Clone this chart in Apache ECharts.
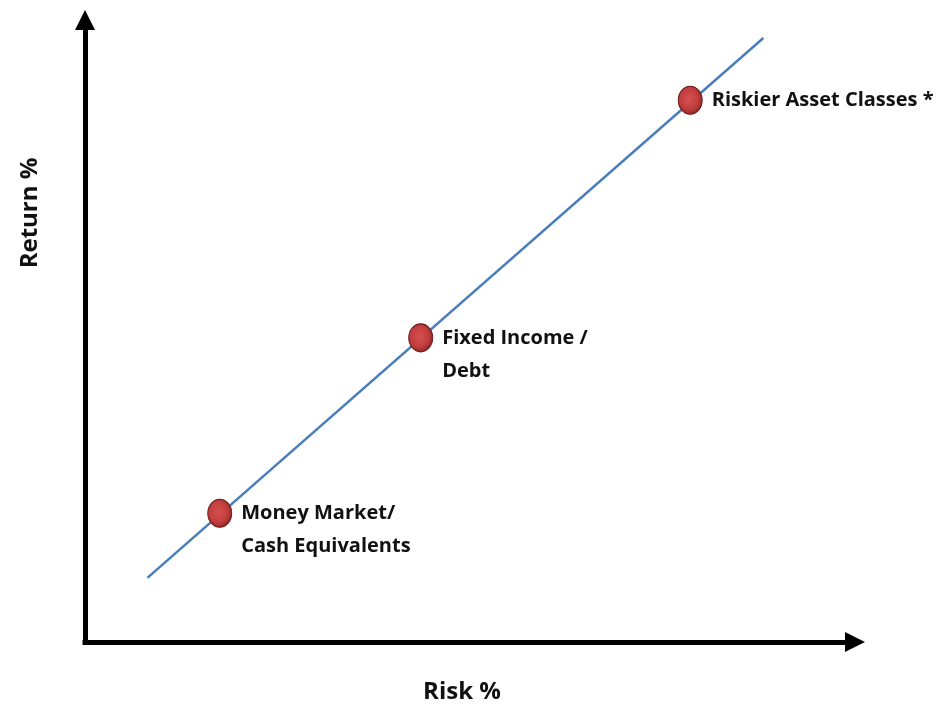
<!DOCTYPE html>
<html><head><meta charset="utf-8">
<script src="https://cdn.jsdelivr.net/npm/echarts@6/dist/echarts.min.js"></script>
<style>html,body{margin:0;padding:0;background:#fff}#c{width:951px;height:715px}</style>
</head><body><div id="c"></div>
<script>
const categories = ['Money Market/\nCash Equivalents', 'Fixed Income /\nDebt', 'Riskier Asset Classes *'];
const riskValues = [17.5, 43.6, 78.6];
const returnValues = [20.7, 48.9, 87.1];
const lineRisk = [8.1, 88.1];
const lineReturn = [10.3, 97.1];
const xAxisTitle = 'Risk %';
const yAxisTitle = 'Return %';

const chart = echarts.init(document.getElementById('c'), null, {renderer: 'canvas'});
const font = '"Open Sans"';
const axisCommon = {
  type: 'value', min: 0, max: 100,
  axisLine: {show: true, lineStyle: {color: '#000', width: 5, cap: 'square'}, symbol: ['none', 'triangle'], symbolSize: [20, 20]},
  axisTick: {show: false}, axisLabel: {show: false}, splitLine: {show: false}
};
const lineData = lineRisk.map((x, i) => [x, lineReturn[i]]);
const pointData = riskValues.map((x, i) => {
  const twoLine = categories[i].indexOf('\n') >= 0;
  return {
    value: [x, returnValues[i]],
    name: categories[i],
    label: {offset: [0, twoLine ? 17 : 0]}
  };
});
chart.setOption({
  animation: false,
  grid: {left: 85, top: 20, right: 96, bottom: 73},
  xAxis: Object.assign({}, axisCommon),
  yAxis: Object.assign({}, axisCommon),
  graphic: [
    {type: 'text', x: 462, y: 692, style: {text: xAxisTitle, font: 'bold 24px ' + font, fill: '#111', align: 'center', verticalAlign: 'middle'}},
    {type: 'text', x: 30, y: 213, rotation: Math.PI / 2, style: {text: yAxisTitle, font: 'bold 24px ' + font, fill: '#111', align: 'center', verticalAlign: 'middle'}}
  ],
  series: [
    {type: 'line', data: lineData, symbol: 'none', lineStyle: {color: '#4a7ebb', width: 2.5}, z: 2},
    {type: 'scatter', data: pointData, symbol: 'circle', symbolSize: [24, 28], z: 3,
     itemStyle: {
       opacity: 1,
       color: {type: 'radial', x: 0.45, y: 0.45, r: 0.6, colorStops: [{offset: 0, color: '#d65050'}, {offset: 0.6, color: '#c23d3d'}, {offset: 1, color: '#862222'}]},
       borderColor: '#6a1818', borderWidth: 1
     },
     label: {show: true, position: 'right', distance: 9, formatter: p => p.name, color: '#111', fontFamily: 'Open Sans', fontWeight: 'bold', fontSize: 20, lineHeight: 33}
    }
  ]
});
</script></body></html>
